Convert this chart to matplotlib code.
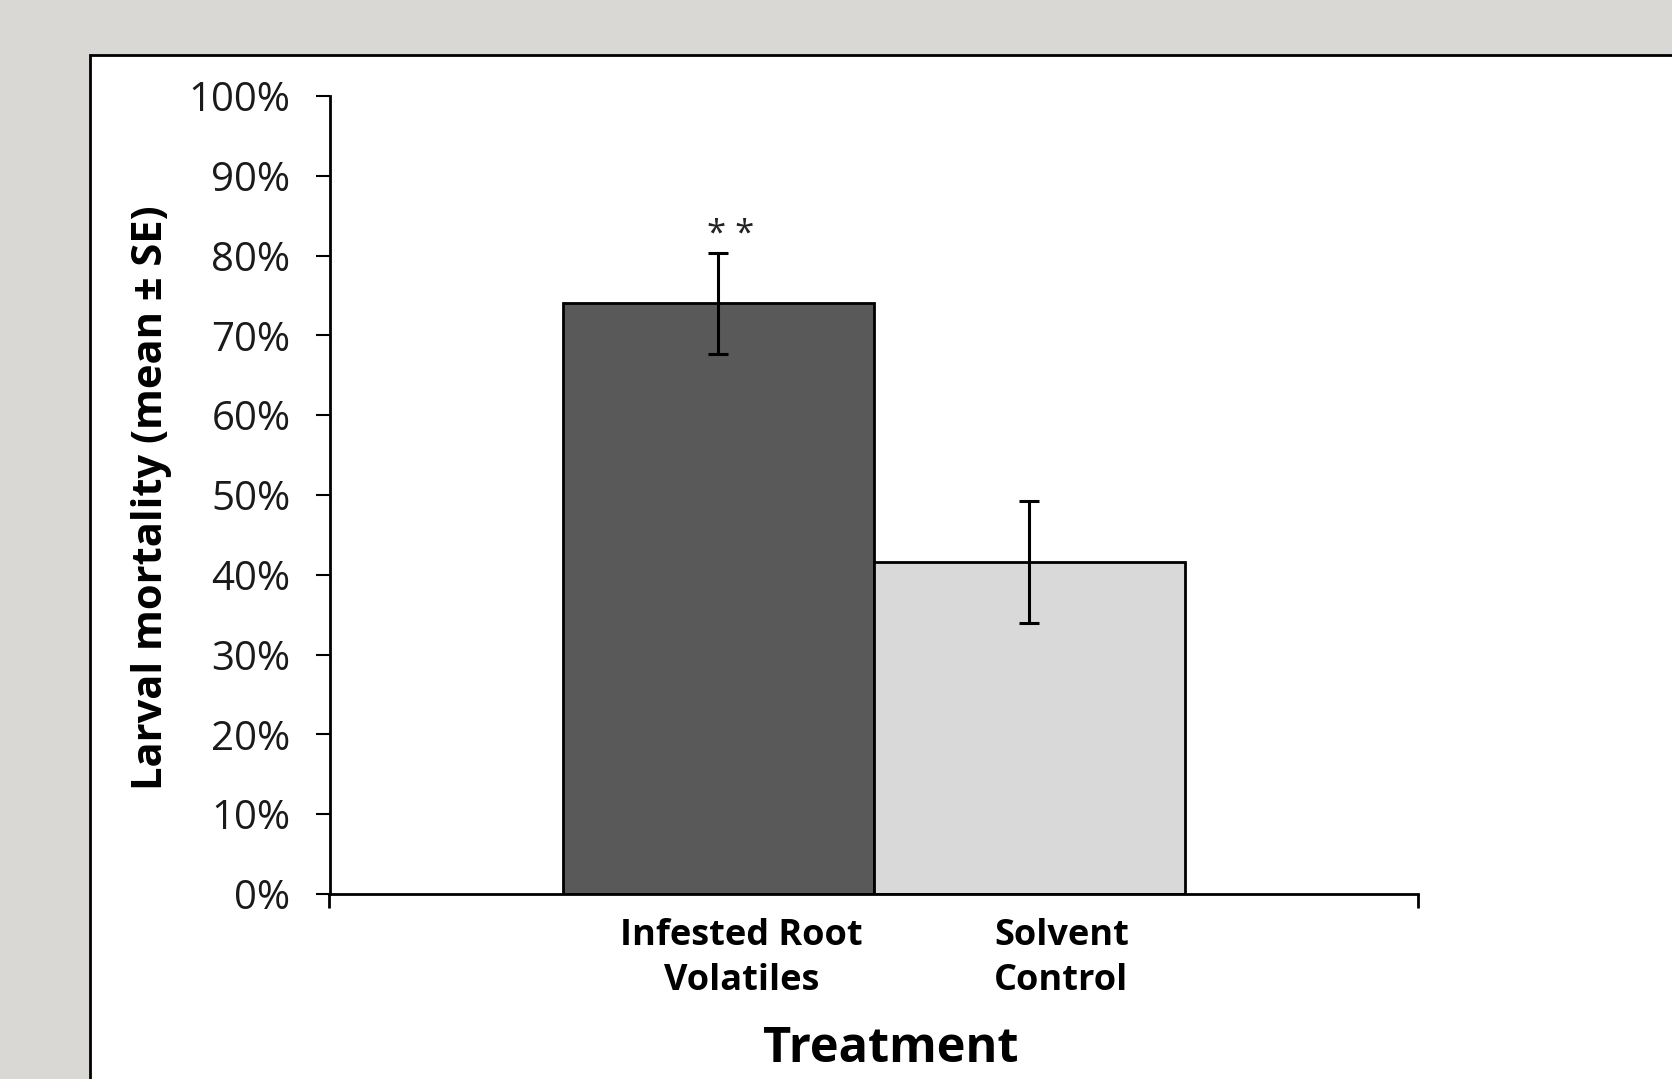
import matplotlib.pyplot as plt
from matplotlib.patches import Rectangle
from matplotlib.ticker import FuncFormatter

# data
treatments = ["Infested Root\nVolatiles", "Solvent\nControl"]
mortality = [0.74, 0.416]
se = [0.063, 0.076]
bar_colors = ["#595959", "#d9d9d9"]
signif = ["* *", ""]

plt.rcParams['font.family'] = ['Open Sans', 'DejaVu Sans']

fig = plt.figure(figsize=(16.72, 10.79), dpi=100, facecolor="#d9d8d4")

# white panel with black border (runs off the right and bottom edges)
panel = Rectangle((90 / 1672, -0.01), 1.0, 1 - 55 / 1079 + 0.01,
                  transform=fig.transFigure, facecolor="white",
                  edgecolor="black", linewidth=2, zorder=-5)
fig.patches.append(panel)

ax = fig.add_axes([329.5 / 1672, 1 - 894 / 1079, (1418 - 329.5) / 1672, (894 - 96) / 1079])
ax.set_facecolor("none")
ax.set_zorder(3)

pos = list(range(len(treatments)))
ax.bar(pos, mortality, width=1.0, color=bar_colors, edgecolor="black",
       linewidth=2, zorder=2)
ax.errorbar(pos, mortality, yerr=se, fmt="none", ecolor="black",
            elinewidth=2.2, capsize=7, capthick=2.2, zorder=3)

for x, m, s, lab in zip(pos, mortality, se, signif):
    if lab:
        ax.text(x + 0.04, m + s + 0.002, lab, ha="center", va="bottom",
                fontsize=25, color="#222222")

ax.set_xlim(-1.25, 2.25)
ax.set_ylim(0, 1)

ax.set_yticks([i / 10 for i in range(11)])
ax.yaxis.set_major_formatter(FuncFormatter(lambda v, p: "%d%%" % round(v * 100)))
ax.tick_params(axis="y", direction="out", length=10, width=1.5, labelsize=29,
               pad=18, colors="black", labelcolor="#1a1a1a")

# only end ticks on the x axis, category labels as minor ticks
ax.set_xticks([-1.25, 2.25])
ax.set_xticklabels(["", ""])
ax.tick_params(axis="x", which="major", direction="out", length=10, width=2)
ax.set_xticks([0.075, 1.103], minor=True)
ax.set_xticklabels(treatments, minor=True, fontsize=26, fontweight="bold",
                   linespacing=1.33)
ax.tick_params(axis="x", which="minor", length=0, pad=17)

for side in ["top", "right"]:
    ax.spines[side].set_visible(False)
for side in ["left", "bottom"]:
    ax.spines[side].set_linewidth(2)

fig.text(152 / 1672, 1 - 498 / 1079, "Larval mortality (mean ± SE)",
         rotation=90, ha="center", va="center", fontsize=30, fontweight="bold")
fig.text(891 / 1672, 1 - 1050 / 1079, "Treatment", ha="center", va="center",
         fontsize=35, fontweight="bold")

fig.savefig("out.png", dpi=100, facecolor=fig.get_facecolor())
